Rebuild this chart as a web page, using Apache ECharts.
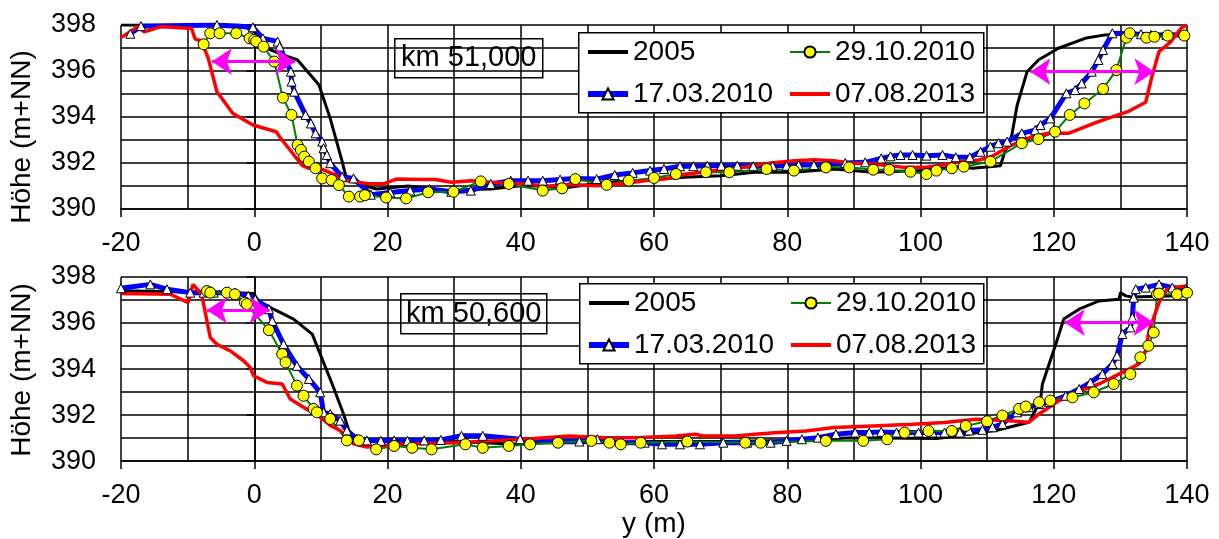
<!DOCTYPE html>
<html>
<head>
<meta charset="utf-8">
<script src="https://cdn.jsdelivr.net/npm/echarts@6/dist/echarts.min.js"></script>
<style>
  html, body { margin: 0; padding: 0; background: #fff; }
  #main { width: 1219px; height: 539px; }
</style>
</head>
<body>
<div id="main"></div>
<script>
// Querprofile, y (m) gegen Höhe (m+NN)
var legendCol1 = ['2005', '17.03.2010'];
var legendCol2 = ['29.10.2010', '07.08.2013'];
var xTicks = [-20, 140, 20];
var yTicks = [390, 398, 2];

// km 51,000
var top2005 = [[-20,398],[-2,398],[0,397.7],[1.8,397.0],[4.3,396.7],[6.5,396.48],[9.7,395.4],[11.4,393.94],[13.2,392.06],[13.8,391.35],[16.5,391.0],[18.4,390.87],[23.1,391.0],[26,390.9],[29.6,390.72],[32,390.85],[35.5,390.87],[39.6,391.0],[43,391.0],[46.2,390.9],[52.7,391.16],[57.4,391.23],[64.5,391.38],[70,391.45],[75.1,391.6],[81,391.6],[87,391.74],[92.9,391.6],[100,391.67],[105.8,391.84],[107.8,391.77],[112,391.88],[112.5,392.35],[113.7,393.2],[114.5,394.5],[116,395.97],[117.7,396.48],[120.7,396.99],[124.7,397.42],[127.7,397.57],[129.2,397.6],[140,397.6]];
var top2910 = [[-7.6,397.16],[-6.6,397.64],[-5.2,397.64],[-2.7,397.64],[-0.7,397.42],[0,397.35],[0.3,397.28],[1.4,397.06],[3.0,396.41],[4.3,394.84],[5.6,394.09],[6.5,392.78],[7.0,392.57],[7.5,392.28],[8.2,392.06],[9.2,391.77],[10.2,391.33],[11.6,391.26],[12.7,391.04],[14.2,390.54],[15.9,390.54],[16.6,390.6],[19.8,390.5],[22.8,390.46],[26.1,390.73],[29.9,390.75],[34.0,391.2],[38.2,391.09],[43.3,390.8],[46.2,390.9],[48.2,391.3],[52.9,391.05],[56.2,391.23],[60,391.35],[63.3,391.52],[67.8,391.6],[71.3,391.6],[76.9,391.74],[81,391.67],[85.8,391.81],[89.3,391.81],[92.9,391.71],[95.3,391.71],[98.5,391.62],[100.9,391.52],[102.4,391.67],[104.7,391.77],[106.5,391.84],[110.5,392.06],[115.2,392.86],[117.7,393.04],[120.2,393.36],[122.4,394.09],[124.6,394.59],[127.4,395.22],[129.4,396.04],[130.9,397.45],[131.4,397.64],[133.9,397.45],[135.1,397.49],[137.1,397.54],[139.6,397.54]];
var top1703 = [[-18.6,397.62],[-17,397.95],[-5.6,398],[-0.2,397.9],[1.3,397.42],[3.5,397.28],[3.8,397.06],[5.5,395.97],[5.6,395.54],[6.0,395.1],[7.7,394.09],[8.5,393.72],[9.2,393.29],[10.2,392.93],[10.4,392.64],[10.9,392.35],[11.4,391.99],[13.2,391.4],[14.9,391.33],[17.5,390.62],[20.4,390.72],[23.4,390.8],[26.3,390.87],[29.6,390.75],[32.5,390.8],[35.5,391.09],[38.5,391.23],[41.1,391.23],[43.3,391.23],[45.9,391.28],[48.2,391.33],[51.4,391.3],[54.1,391.48],[56.8,391.57],[59.4,391.67],[61.5,391.74],[63.9,391.86],[65.9,391.86],[68,391.88],[70.1,391.88],[72.5,391.88],[74.9,391.86],[77.8,391.88],[79.9,391.88],[81.7,391.91],[84,391.91],[86.1,391.91],[88.7,392],[91.7,392.03],[94.1,392.2],[95.5,392.29],[97,392.35],[98.8,392.35],[100.9,392.32],[103.3,392.35],[105.3,392.25],[107.4,392.25],[109,392.49],[110.5,392.71],[111.7,392.86],[113,392.93],[115.2,393.29],[117.2,393.43],[118,393.65],[119.5,393.94],[121.9,395.03],[123.2,395.17],[124.2,395.46],[125.7,395.97],[126.7,396.48],[127.4,396.91],[128.8,397.64],[133.1,397.6],[134.6,397.57],[136.9,397.57],[139.6,397.57]];
var top0708 = [[-20,397.45],[-17.5,397.93],[-16.5,397.7],[-14,397.93],[-9.4,397.85],[-8.9,397.4],[-7.9,397.3],[-6.9,396.55],[-5.6,395.1],[-3.2,394.15],[-0.2,393.65],[3.3,393.36],[3.8,393.14],[7.2,391.9],[8.2,391.77],[9.2,391.84],[12.2,391.48],[13.2,391.26],[17.1,391.1],[19.5,391.1],[21.3,391.3],[25.4,391.28],[27.2,391.28],[29.6,391.16],[32.5,391.23],[35.5,391.16],[40.8,391.09],[43.8,390.99],[47.3,391.06],[51.5,391.01],[55,391.09],[58.6,391.23],[61.5,391.3],[65.1,391.52],[69.2,391.67],[73.4,391.81],[77.5,392],[81.1,392.1],[84,392.14],[87,392.1],[89.3,392],[92.9,391.96],[97.6,391.81],[100.5,391.81],[103.5,391.91],[105.8,392.06],[108.8,392.13],[110.7,392.28],[113.7,392.78],[116.7,393.14],[119.2,393.29],[122.2,393.29],[126.7,393.8],[131.1,394.23],[133.8,394.64],[134.8,395.83],[135.8,396.84],[137.6,397.28],[139.1,397.86],[139.9,398]];
var topArrows = [[[-6.35,396.41],[6.15,396.41]], [[116.5,395.97],[135.1,395.97]]];

// km 50,600
var bot2005 = [[-20,397.4],[-10,397.35],[-2,397.3],[-0.1,397.28],[0.65,396.96],[2.9,396.6],[5.9,396.17],[8.7,395.52],[9.9,394.65],[11.7,393.35],[13.4,392.05],[14.2,391.33],[14.9,390.9],[20,390.85],[30,390.85],[39.6,390.73],[43.2,390.8],[49.1,390.8],[60,390.85],[70,390.85],[80,390.9],[90,391.02],[102.4,390.98],[105.8,391.1],[108.8,391.25],[111.3,391.33],[116.3,391.69],[118,392.63],[118.3,393.35],[120.3,395.08],[121.5,396.17],[123.8,396.6],[126.8,396.96],[129.8,397.03],[130,397.32],[130.8,397.18],[131.8,397.13],[140,397.2]];
var bot2910 = [[-7.1,397.39],[-6.6,397.32],[-4.1,397.32],[-2.9,397.25],[-1.4,396.89],[-1.1,396.82],[2.2,395.69],[4.2,394.65],[4.7,394.29],[6.4,393.28],[7.4,392.84],[8.9,392.27],[9.4,392.12],[11.4,391.83],[13.9,390.9],[15.7,390.9],[18.3,390.51],[21,390.66],[23.7,390.58],[26.6,390.51],[31.7,390.73],[34.3,390.58],[38.2,390.66],[41.4,390.73],[45.6,390.8],[50.6,390.88],[53.3,390.8],[55,390.73],[58,390.8],[65,390.85],[73.7,390.8],[76,390.8],[85.8,390.88],[91.4,390.88],[95,390.95],[97.6,391.24],[101.2,391.31],[104.7,391.31],[106.8,391.53],[110,391.73],[112.3,391.98],[114.8,392.27],[115.8,392.37],[117.8,392.56],[119.5,392.63],[122.8,392.77],[126,392.99],[129,393.35],[131.5,393.78],[133,394.51],[134.2,395.01],[135,395.59],[135.5,397.25],[135.8,397.28],[138.5,397.25],[140,397.32]];
var bot1703 = [[-20,397.51],[-15.6,397.68],[-13.1,397.47],[-9.6,397.32],[-7.6,397.32],[-6.1,397.32],[-2.9,397.32],[-0.9,397.18],[0.15,397.03],[2.2,396.6],[2.7,396.09],[4.4,395.08],[6.4,394.14],[8.2,393.57],[9.9,392.99],[10.4,392.12],[11.4,392.05],[12.9,391.76],[13.9,391.33],[15.4,390.97],[16.9,390.9],[19,390.88],[21,390.9],[23,390.88],[25.5,390.9],[28,390.92],[31.1,391.1],[34.3,391.1],[39.9,390.95],[45.6,390.85],[48.8,390.85],[51.5,390.95],[55,390.8],[58.6,390.8],[61.2,390.73],[63.9,390.73],[66.9,390.73],[70.4,390.8],[74,390.8],[77.5,390.8],[79.9,390.88],[82.2,390.95],[84.6,391.02],[87.3,391.17],[90.2,391.24],[92.3,391.24],[94.1,391.27],[96.4,391.24],[99.7,391.24],[101.8,391.24],[103.6,391.24],[105.9,391.24],[107.3,391.33],[109.3,391.36],[110.8,391.47],[112.3,391.62],[114.5,392.12],[116.3,392.34],[117.8,392.48],[119.3,392.56],[121.8,392.84],[123.8,393.13],[125.5,393.42],[127.3,393.78],[128.8,394.22],[129.5,394.58],[130.3,395.52],[131.5,395.81],[131.8,396.24],[132,397.1],[132.3,397.47],[133.8,397.54],[135.8,397.68],[137.8,397.54],[139.8,397.47]];
var bot0708 = [[-20,397.28],[-12.6,397.25],[-9.9,396.89],[-9.2,397.68],[-7.9,397.25],[-6.6,395.37],[-5.6,395.08],[-3.6,394.79],[-1.6,394.36],[-0.6,394.07],[-0.1,393.71],[1.9,393.42],[4.2,393.35],[5.4,392.7],[7.4,392.34],[9.9,391.91],[11.4,391.55],[12.9,391.33],[14.9,390.75],[16.9,390.61],[21.9,390.73],[30.2,390.8],[36.1,390.88],[42,390.98],[47.3,391.09],[52.7,391.02],[57.4,391.02],[63.3,391.09],[66.2,391.17],[67.4,391.09],[72.2,391.09],[75.1,391.17],[78.7,391.24],[82.8,391.31],[87,391.46],[92.9,391.53],[98.8,391.6],[103.6,391.68],[108.3,391.82],[112.8,391.76],[116.3,391.69],[117.8,392.05],[120.8,392.63],[123.3,392.99],[126.8,393.35],[129.8,393.78],[132.8,394.22],[133.8,394.79],[134.3,395.66],[135.8,396.89],[137,397.47],[138.3,397.54],[139.8,397.61]];
var botArrows = [[[-7.1,396.56],[2.3,396.56]], [[121.65,396.02],[135,396.02]]];

var FONT = 'Liberation Sans, Arial, sans-serif';
var chart = echarts.init(document.getElementById('main'), null, {renderer: 'canvas'});

function xAxisOf(idx, withName) {
    var ax = {
        type: 'value', gridIndex: idx,
        min: xTicks[0], max: xTicks[1], interval: xTicks[2],
        axisLine: {show: true, onZero: false, lineStyle: {color: '#000', width: 1.5}},
        axisTick: {show: true, length: 8, lineStyle: {color: '#000', width: 1.5}},
        axisLabel: {fontSize: 27, color: '#000', fontFamily: FONT, margin: 21},
        splitLine: {show: true, lineStyle: {color: '#000', width: 1.5}},
        minorTick: {show: false, splitNumber: 2},
        minorSplitLine: {show: true, lineStyle: {color: '#000', width: 1.5}}
    };
    if (withName) {
        ax.name = 'y (m)';
        ax.nameLocation = 'middle';
        ax.nameGap = 48;
        ax.nameTextStyle = {fontSize: 28, color: '#000', fontFamily: FONT};
    }
    return ax;
}

function yAxisOf(idx) {
    return {
        type: 'value', gridIndex: idx,
        min: yTicks[0], max: yTicks[1], interval: yTicks[2],
        axisLine: {show: true, lineStyle: {color: '#000', width: 1.5}},
        axisTick: {show: true, length: 8, lineStyle: {color: '#000', width: 1.5}},
        axisLabel: {fontSize: 27, color: '#000', fontFamily: FONT, margin: 25},
        splitLine: {show: true, lineStyle: {color: '#000', width: 1.5}},
        minorTick: {show: false, splitNumber: 2},
        minorSplitLine: {show: true, lineStyle: {color: '#000', width: 1.5}}
    };
}

function profileSeries(idx, d2005, d2910, d1703, d0708, arrows) {
    return [
        {
            name: '2005', type: 'line', xAxisIndex: idx, yAxisIndex: idx,
            data: d2005, symbol: 'none',
            lineStyle: {color: '#000', width: 3}, itemStyle: {color: '#000'}
        },
        {
            name: '17.03.2010', type: 'line', xAxisIndex: idx, yAxisIndex: idx,
            data: d1703, symbol: 'triangle', symbolSize: 9,
            lineStyle: {color: '#0000FF', width: 5},
            itemStyle: {color: '#fff', borderColor: '#000', borderWidth: 1}
        },
        {
            name: '29.10.2010', type: 'line', xAxisIndex: idx, yAxisIndex: idx,
            data: d2910, symbol: 'circle', symbolSize: 11,
            lineStyle: {color: '#008000', width: 2},
            itemStyle: {color: '#FFFF00', borderColor: '#000', borderWidth: 1}
        },
        {
            name: '07.08.2013', type: 'line', xAxisIndex: idx, yAxisIndex: idx,
            data: d0708, symbol: 'none',
            lineStyle: {color: '#FF0000', width: 3.5}, itemStyle: {color: '#FF0000'}
        },
        {
            type: 'lines', coordinateSystem: 'cartesian2d', xAxisIndex: idx, yAxisIndex: idx,
            symbol: ['arrow', 'arrow'], symbolSize: 20,
            lineStyle: {color: '#FF00FF', width: 3, opacity: 1, curveness: 0},
            itemStyle: {color: '#FF00FF'},
            z: 5,
            data: arrows.map(function (a) { return {coords: a}; })
        }
    ];
}

// legend icons: line-only series get no marker, lines a bit bolder
function legendItem(name) {
    if (name === '2005') {
        return {name: name, itemStyle: {opacity: 0}, lineStyle: {width: 4}};
    }
    if (name === '07.08.2013') {
        return {name: name, itemStyle: {opacity: 0}, lineStyle: {width: 4}};
    }
    if (name === '17.03.2010') {
        return {name: name, lineStyle: {width: 6}};
    }
    return {name: name, lineStyle: {width: 2}};
}

function legendOf(names, left, top) {
    return {
        data: names.map(legendItem),
        left: left, top: top,
        orient: 'vertical',
        itemWidth: 40, itemHeight: 14, itemGap: 14,
        padding: 0,
        z: 10,
        selectedMode: false,
        textStyle: {fontSize: 28, color: '#000', fontFamily: FONT}
    };
}

function boxRect(x, y, w, h) {
    return {type: 'rect', left: x, top: y, z: 3,
            shape: {x: 0, y: 0, width: w, height: h},
            style: {fill: '#fff', stroke: '#000', lineWidth: 1.5}};
}

function kmBox(x, y, w, h, label) {
    return {
        type: 'group', left: x, top: y, z: 3,
        children: [
            {type: 'rect', shape: {x: 0, y: 0, width: w, height: h},
             style: {fill: '#fff', stroke: '#000', lineWidth: 1.5}},
            {type: 'text', x: w / 2, y: h / 2,
             style: {text: label, fontSize: 29, fontFamily: FONT, fill: '#000',
                     align: 'center', verticalAlign: 'middle'}}
        ]
    };
}

var option = {
    animation: false,
    backgroundColor: '#fff',
    grid: [
        {left: 121, right: 32, top: 25, height: 184},
        {left: 121, right: 32, top: 277, height: 185}
    ],
    xAxis: [xAxisOf(0, false), xAxisOf(1, true)],
    yAxis: [yAxisOf(0), yAxisOf(1)],
    legend: [
        legendOf(legendCol1, 585, 38), legendOf(legendCol2, 788, 38),
        legendOf(legendCol1, 586, 289), legendOf(legendCol2, 789, 289)
    ],
    graphic: [
        boxRect(578, 32, 405, 80),
        boxRect(579, 283, 404, 80),
        kmBox(394, 38, 148, 39, 'km 51,000'),
        kmBox(400, 293, 146, 40, 'km 50,600'),
        {type: 'text', x: 22, y: 137, rotation: Math.PI / 2,
         style: {text: 'Höhe (m+NN)', fontSize: 28, fontFamily: FONT, fill: '#000',
                 align: 'center', verticalAlign: 'middle'}},
        {type: 'text', x: 22, y: 370, rotation: Math.PI / 2,
         style: {text: 'Höhe (m+NN)', fontSize: 28, fontFamily: FONT, fill: '#000',
                 align: 'center', verticalAlign: 'middle'}}
    ],
    series: profileSeries(0, top2005, top2910, top1703, top0708, topArrows)
        .concat(profileSeries(1, bot2005, bot2910, bot1703, bot0708, botArrows))
};

chart.setOption(option);
</script>
</body>
</html>
